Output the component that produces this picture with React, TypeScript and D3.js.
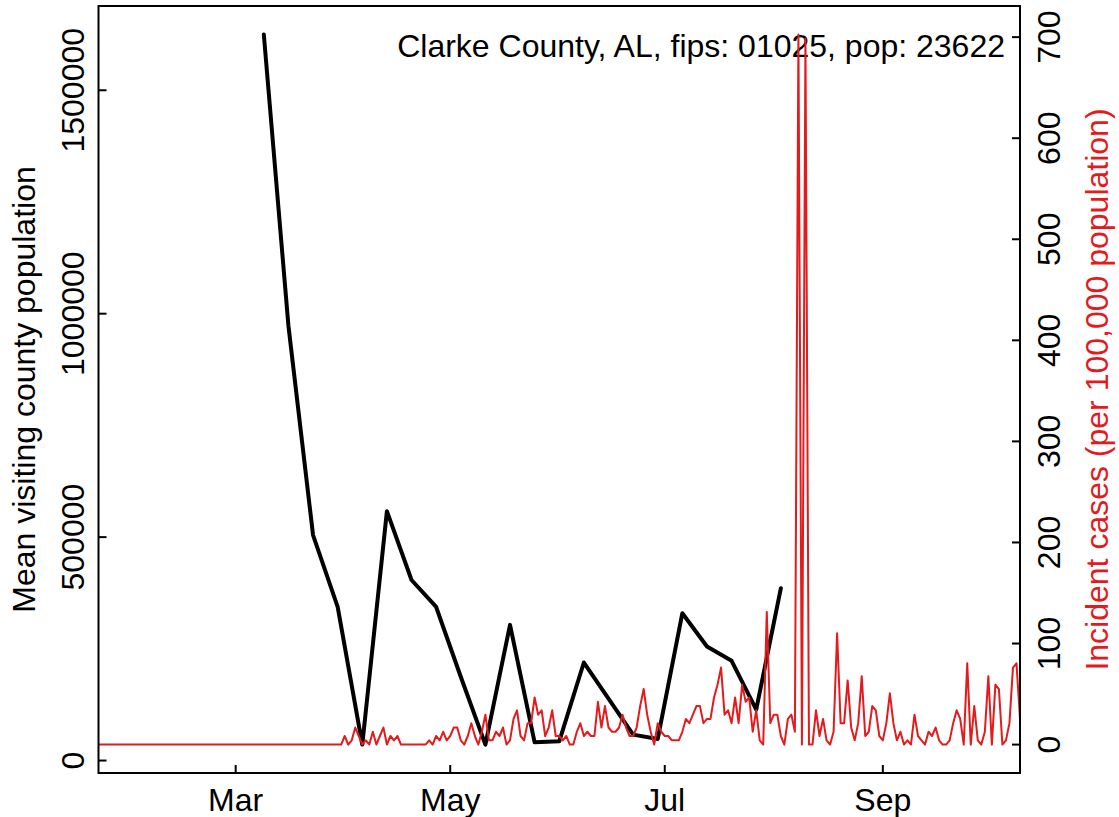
import React from "react";
import * as d3 from "d3";

// ---------- data ----------
const caseStart = new Date(2020, 0, 22); // first daily value (Jan 22, 2020)
// Incident cases per 100,000 population, daily from Jan 22 to Oct 10, 2020
const caseZeros = [
  0, 0, 0, 0, 0, 0, 0, 0, 0, 0, 0, 0, 0, 0, 0, 0, 0, 0, 0, 0, 0, 0, 0,
  0, 0, 0, 0, 0, 0, 0, 0, 0, 0, 0, 0, 0, 0, 0, 0, 0, 0, 0, 0, 0, 0, 0,
  0, 0, 0, 0, 0, 0, 0, 0, 0, 0, 0, 0, 0, 0, 0, 0, 0, 0, 0, 0, 0, 0, 0,
];
const casesApr = [
  0, 8.5, 0, 4.2, 16.9, 8.5, 0, 4.2, 0, 12.7, 0, 8.5, 16.9, 0, 8.5, 4.2, 8.5,
  0, 0, 0, 0, 0, 0, 0, 0, 4.2, 0, 8.5, 4.2, 12.7, 4.2, 8.5, 16.9, 16.9, 4.2,
  0, 8.5, 21.2, 8.5, 0, 12.7, 29.6, 4.2, 4.2, 12.7, 8.5, 16.9, 0, 4.2, 25.4,
  33.9, 8.5, 4.2, 21.2, 21.2,
];
const casesJun = [
  46.6, 29.6, 33.9, 8.5, 16.9, 33.9, 8.5, 8.5, 4.2, 8.5, 0, 0, 12.7, 21.2,
  8.5, 12.7, 8.5, 8.5, 42.3, 16.9, 38.1, 16.9, 12.7, 12.7, 16.9, 29.6, 16.9,
  8.5, 8.5, 16.9, 38.1, 55.0, 29.6, 12.7, 0, 21.2, 12.7, 8.5, 8.5, 4.2, 4.2,
  4.2, 12.7, 25.4, 21.2, 29.6, 38.1, 38.1, 21.2, 25.4, 25.4, 46.6, 59.3,
  76.2, 29.6, 33.9, 21.2, 46.6, 21.2, 59.3, 42.3, 46.6, 12.7, 33.9, 4.2, 0,
  131.3, 21.2, 29.6, 29.6, 8.5, 0, 25.4, 29.6, 12.7,
];
const casesAug = [
  702.7, 0, 698.5, 0, 0, 33.9, 8.5, 25.4, 4.2, 0, 12.7, 110.1, 21.2, 21.2,
  63.5, 16.9, 4.2, 21.2, 67.7, 8.5, 12.7, 38.1, 33.9, 8.5, 4.2, 21.2, 50.8,
  21.2, 4.2, 12.7, 0, 4.2, 0, 29.6, 8.5, 4.2, 0, 12.7, 8.5, 16.9, 4.2, 0, 0,
  4.2, 21.2, 33.9, 25.4, 0, 80.4, 0, 38.1, 4.2, 0, 12.7, 67.7, 0, 59.3, 55.0,
  0, 4.2, 21.2, 76.2, 80.4, 25.4,
];
const incidentCases = [...caseZeros, ...casesApr, ...casesJun, ...casesAug];

const visitStart = new Date(2020, 2, 9); // weekly, from Mar 9, 2020
const visitingPop = [
  1625000, 973000, 504500, 343700, 35700, 558000, 404000, 343700, 187500,
  35700, 303600, 40800, 43100, 219400, 138400, 58000, 48400, 329700, 255100,
  223200, 113800, 385500,
];

const monthTicks = [new Date(2020, 2, 1), new Date(2020, 4, 1), new Date(2020, 6, 1), new Date(2020, 8, 1)];
const monthLabels = ["Mar", "May", "Jul", "Sep"];
const leftTicks = [0, 500000, 1000000, 1500000];
const rightTicks = [0, 100, 200, 300, 400, 500, 600, 700];
const titleText = "Clarke County, AL, fips: 01025, pop: 23622";

// ---------- layout ----------
const W = 1119;
const H = 817;
const L = 98.5, R = 1020, T = 6, B = 773;
const RED = "#e41a1c";
const FONT = "'Liberation Sans', Arial, Helvetica, sans-serif";
const FS = 32;
const TCK = 8;

function padDomain(vals: number[]): [number, number] {
  const [mn, mx] = d3.extent(vals) as [number, number];
  const r = mx - mn;
  return [mn - 0.04 * r, mx + 0.04 * r];
}

export default function App() {
  const caseDates = incidentCases.map((_, i) => d3.timeDay.offset(caseStart, i));
  const visitDates = visitingPop.map((_, i) => d3.timeDay.offset(visitStart, 7 * i));

  const x = d3.scaleTime().domain([caseDates[0], caseDates[caseDates.length - 1]]).range([L, R]);
  const yL = d3.scaleLinear().domain(padDomain(visitingPop)).range([B, T]);
  const yR = d3.scaleLinear().domain(padDomain(incidentCases)).range([B, T]);

  const redLine = d3
    .line<number>()
    .x((_, i) => x(caseDates[i]))
    .y((d) => yR(d))(incidentCases) as string;
  const blackLine = d3
    .line<number>()
    .x((_, i) => x(visitDates[i]))
    .y((d) => yL(d))(visitingPop) as string;

  return (
    <svg
      width={W}
      height={H}
      style={{ position: "absolute", left: 0, top: 0, background: "#fff" }}
      fontFamily={FONT}
    >
      <defs>
        <clipPath id="plotclip">
          <rect x={L} y={T} width={R - L} height={B - T} />
        </clipPath>
      </defs>
      <rect x={0} y={0} width={W} height={H} fill="#fff" />

      {/* title (drawn beneath the lines) */}
      <text x={1005} y={57} fontSize={FS} textAnchor="end" fill="#000">
        {titleText}
      </text>

      <g clipPath="url(#plotclip)">
        <path d={blackLine} fill="none" stroke="#000" strokeWidth={4} strokeLinejoin="round" strokeLinecap="round" />
        <path d={redLine} fill="none" stroke={RED} strokeWidth={2} strokeLinejoin="round" strokeLinecap="round" />
      </g>

      {/* box */}
      <rect x={L} y={T} width={R - L} height={B - T} fill="none" stroke="#000" strokeWidth={2} />

      {/* bottom axis */}
      {monthTicks.map((d, i) => (
        <g key={"m" + i}>
          <line x1={x(d)} x2={x(d)} y1={B} y2={B - TCK} stroke="#000" strokeWidth={2} />
          <text x={x(d)} y={811} fontSize={FS} textAnchor="middle" fill="#000">
            {monthLabels[i]}
          </text>
        </g>
      ))}

      {/* left axis */}
      {leftTicks.map((v, i) => (
        <g key={"l" + i}>
          <line x1={L} x2={L + TCK} y1={yL(v)} y2={yL(v)} stroke="#000" strokeWidth={2} />
          <text
            transform={`translate(84,${yL(v)}) rotate(-90)`}
            fontSize={FS}
            textAnchor="middle"
            fill="#000"
          >
            {String(v)}
          </text>
        </g>
      ))}
      <text
        transform={`translate(35,${(T + B) / 2}) rotate(-90)`}
        fontSize={FS}
        textAnchor="middle"
        fill="#000"
      >
        Mean visiting county population
      </text>

      {/* right axis */}
      {rightTicks.map((v, i) => (
        <g key={"r" + i}>
          <line x1={R} x2={R - TCK} y1={yR(v)} y2={yR(v)} stroke="#000" strokeWidth={2} />
          <text
            transform={`translate(1060,${yR(v)}) rotate(-90)`}
            fontSize={FS}
            textAnchor="middle"
            fill="#000"
          >
            {String(v)}
          </text>
        </g>
      ))}
      <text
        transform={`translate(1108,${(T + B) / 2}) rotate(-90)`}
        fontSize={FS}
        textAnchor="middle"
        fill={RED}
      >
        Incident cases (per 100,000 population)
      </text>
    </svg>
  );
}
